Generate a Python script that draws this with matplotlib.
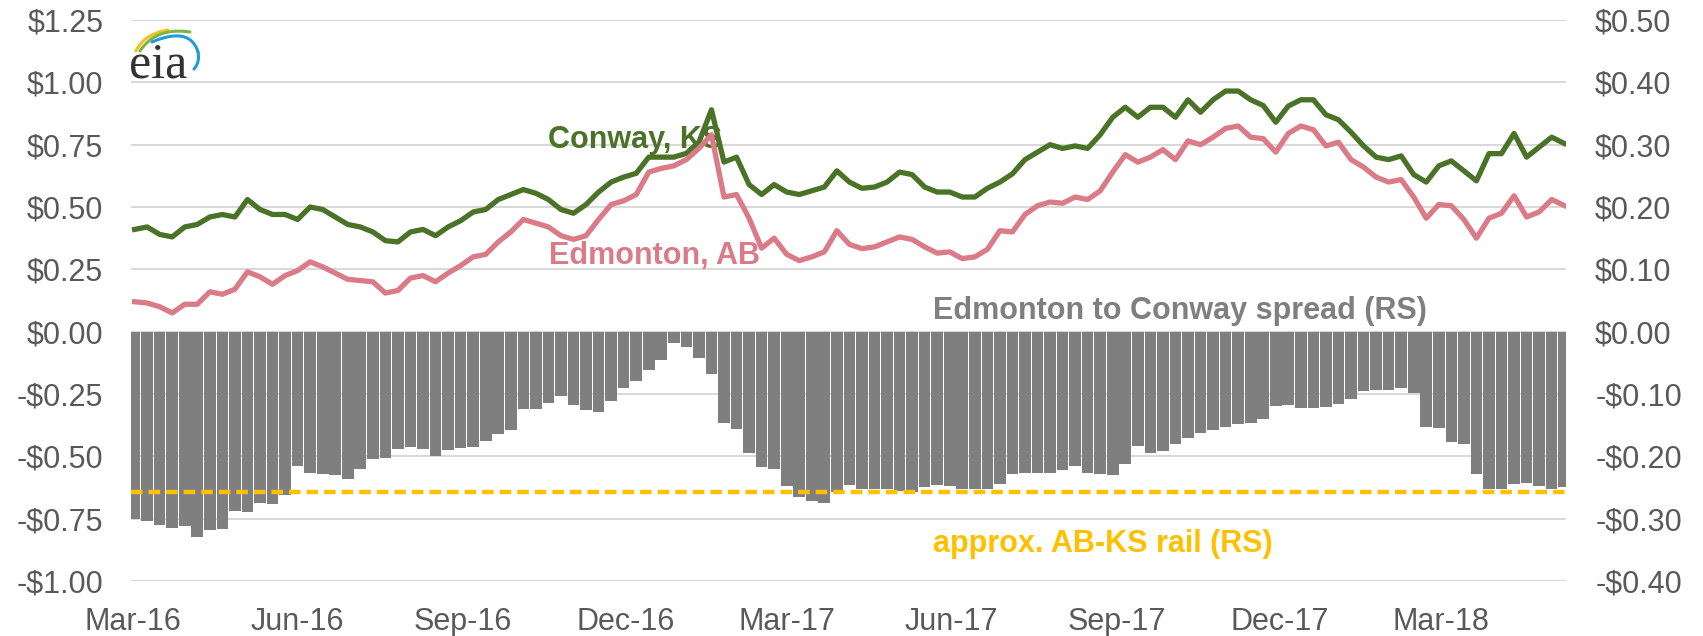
import numpy as np
import pandas as pd
import matplotlib
matplotlib.use("Agg")
import matplotlib.pyplot as plt
import matplotlib.dates as mdates
from matplotlib.ticker import FuncFormatter, MultipleLocator

# Weekly readings (one point per week, Wednesdays), Mar-2016 .. May-2018, $/gal
first_week = "2016-03-02"

conway = [
    0.41, 0.42, 0.39, 0.38, 0.42, 0.43, 0.46, 0.47, 0.46, 0.53,
    0.49, 0.47, 0.47, 0.45, 0.50, 0.49, 0.46, 0.43, 0.42, 0.40,
    0.365, 0.36, 0.40, 0.41, 0.385, 0.42, 0.445, 0.48, 0.49, 0.53,
    0.55, 0.57, 0.555, 0.53, 0.49, 0.475, 0.51, 0.56, 0.60, 0.62,
    0.635, 0.70, 0.70, 0.70, 0.715, 0.76, 0.89, 0.68, 0.70, 0.59,
    0.55, 0.59, 0.56, 0.55, 0.565, 0.58, 0.645, 0.60, 0.575, 0.58,
    0.60, 0.64, 0.63, 0.58, 0.56, 0.56, 0.54, 0.54, 0.575, 0.60,
    0.633, 0.69, 0.72, 0.75, 0.735, 0.745, 0.735, 0.79, 0.86, 0.90,
    0.86, 0.90, 0.90, 0.86, 0.93, 0.88, 0.93, 0.965, 0.965, 0.93,
    0.907, 0.84, 0.905, 0.93, 0.93, 0.87, 0.85, 0.80, 0.745, 0.70,
    0.69, 0.705, 0.63, 0.60, 0.665, 0.685, 0.645, 0.605, 0.714, 0.714,
    0.795, 0.70, 0.74, 0.78, 0.755,
]

edmonton = [
    0.12, 0.115, 0.10, 0.075, 0.11, 0.11, 0.16, 0.15, 0.17, 0.24,
    0.22, 0.19, 0.225, 0.245, 0.28, 0.26, 0.235, 0.21, 0.205, 0.20,
    0.155, 0.165, 0.215, 0.225, 0.20, 0.235, 0.265, 0.30, 0.31, 0.36,
    0.40, 0.45, 0.435, 0.42, 0.385, 0.37, 0.385, 0.45, 0.51, 0.525,
    0.55, 0.64, 0.655, 0.665, 0.69, 0.735, 0.79, 0.54, 0.55, 0.455,
    0.335, 0.375, 0.31, 0.285, 0.30, 0.32, 0.405, 0.35, 0.333, 0.34,
    0.36, 0.38, 0.37, 0.34, 0.315, 0.32, 0.293, 0.30, 0.33, 0.405,
    0.40, 0.47, 0.505, 0.52, 0.515, 0.54, 0.53, 0.565, 0.64, 0.71,
    0.68, 0.70, 0.73, 0.69, 0.765, 0.75, 0.78, 0.815, 0.825, 0.78,
    0.774, 0.72, 0.795, 0.825, 0.81, 0.745, 0.76, 0.69, 0.66, 0.62,
    0.60, 0.61, 0.54, 0.455, 0.51, 0.505, 0.45, 0.375, 0.455, 0.475,
    0.545, 0.46, 0.48, 0.53, 0.506,
]

# Edmonton minus Conway, right scale
spread = [
    -0.30, -0.304, -0.31, -0.315, -0.312, -0.33, -0.318, -0.316, -0.288, -0.29,
    -0.275, -0.276, -0.262, -0.215, -0.227, -0.228, -0.23, -0.236, -0.22, -0.205,
    -0.203, -0.188, -0.185, -0.188, -0.20, -0.19, -0.186, -0.185, -0.175, -0.164,
    -0.158, -0.124, -0.124, -0.114, -0.103, -0.117, -0.125, -0.129, -0.111, -0.09,
    -0.079, -0.061, -0.045, -0.018, -0.025, -0.042, -0.068, -0.146, -0.156, -0.195,
    -0.217, -0.22, -0.248, -0.265, -0.272, -0.275, -0.257, -0.246, -0.253, -0.253,
    -0.253, -0.256, -0.258, -0.25, -0.246, -0.248, -0.253, -0.253, -0.253, -0.245,
    -0.229, -0.226, -0.226, -0.226, -0.222, -0.215, -0.227, -0.229, -0.23, -0.212,
    -0.183, -0.195, -0.191, -0.18, -0.171, -0.163, -0.158, -0.153, -0.148, -0.146,
    -0.14, -0.12, -0.117, -0.122, -0.122, -0.121, -0.116, -0.108, -0.095, -0.094,
    -0.093, -0.09, -0.098, -0.153, -0.154, -0.177, -0.181, -0.229, -0.253, -0.253,
    -0.245, -0.243, -0.248, -0.253, -0.25,
]

rail_cost = -0.257  # approx. AB-KS rail, right scale

GREEN = "#4A7328"
PINK = "#DA7B87"
GRAY = "#7F7F7F"
GOLD = "#FFC000"
TICK = "#595959"

plt.rcParams["font.family"] = ["Liberation Sans", "DejaVu Sans"]

dates = pd.date_range(first_week, periods=len(conway), freq="7D")
x = mdates.date2num(dates)


def dollars(v, pos=None):
    v = round(v, 2)
    if abs(v) < 1e-9:
        return "$0.00"
    return ("-" if v < 0 else "") + f"${abs(v):.2f}"


fig = plt.figure(figsize=(17.03, 6.36), dpi=100)
pos = [131 / 1703, 1 - 581 / 636, 1435 / 1703, 561 / 636]

# gridlines sit under the bars, so they live on a background axes
bg = fig.add_axes(pos, zorder=-10)
bg.set_ylim(-1.0, 1.25)
bg.set_xlim(0, 1)
for g in np.arange(-1.0, 1.26, 0.25):
    bg.axhline(g, color="#D9D9D9", linewidth=1.5)
bg.axis("off")

ax = fig.add_axes(pos)
ax2 = ax.twinx()

# left scale: prices
ax.set_ylim(-1.0, 1.25)
ax.yaxis.set_major_locator(MultipleLocator(0.25))
ax.yaxis.set_major_formatter(FuncFormatter(dollars))

# right scale: spread
ax2.set_ylim(-0.4, 0.5)
ax2.yaxis.set_major_locator(MultipleLocator(0.1))
ax2.yaxis.set_major_formatter(FuncFormatter(dollars))

ax2.bar(x, spread, width=6.5, color=GRAY, linewidth=0, zorder=2)
ax2.axhline(rail_cost, color=GOLD, linewidth=3.2, dashes=(2.6, 1.35), zorder=3)

ax.set_zorder(ax2.get_zorder() + 1)
ax.patch.set_visible(False)
ax2.patch.set_visible(False)
ax.plot(x, conway, color=GREEN, linewidth=3.8, solid_joinstyle="round", zorder=4)
ax.plot(x, edmonton, color=PINK, linewidth=3.8, solid_joinstyle="round", zorder=4)

ax.set_xlim(mdates.date2num(pd.Timestamp("2016-02-29")), mdates.date2num(pd.Timestamp("2018-05-10")))
ax.xaxis.set_major_locator(mdates.MonthLocator(bymonth=[3, 6, 9, 12]))
ax.xaxis.set_major_formatter(mdates.DateFormatter("%b-%y"))

for a in (ax, ax2):
    for s in a.spines.values():
        s.set_visible(False)
ax.tick_params(axis="y", length=0, labelsize=22, labelcolor=TICK, pad=20)
ax.tick_params(axis="x", length=0, labelsize=22, labelcolor=TICK, pad=19)
ax2.tick_params(axis="y", length=0, labelsize=22, labelcolor=TICK, pad=21)

# in-chart labels
ax.text(0.2906, 0.77, "Conway, KS", transform=ax.get_yaxis_transform(), color=GREEN,
        fontsize=22, fontweight="bold", va="center", ha="left")
ax.text(0.2913, 0.305, "Edmonton, AB", transform=ax.get_yaxis_transform(), color=PINK,
        fontsize=22, fontweight="bold", va="center", ha="left")
ax2.text(0.5589, 0.033, "Edmonton to Conway spread (RS)", transform=ax2.get_yaxis_transform(),
         color=GRAY, fontsize=22, fontweight="bold", va="center", ha="left")
ax2.text(0.5589, -0.341, "approx. AB-KS rail (RS)", transform=ax2.get_yaxis_transform(),
         color=GOLD, fontsize=22, fontweight="bold", va="center", ha="left")

# eia logo
logo = fig.add_axes([128 / 1703, 1 - 82 / 636, 75 / 1703, 57 / 636])
logo.set_xlim(0, 75)
logo.set_ylim(0, 57)
logo.axis("off")


def bez(p0, p1, p2, n=40):
    t = np.linspace(0, 1, n)[:, None]
    p = (1 - t) ** 2 * np.array(p0) + 2 * (1 - t) * t * np.array(p1) + t ** 2 * np.array(p2)
    return p[:, 0], p[:, 1]


logo.plot(*bez((8, 31), (16, 48), (40, 52)), color="#F2C41B", linewidth=2.2, solid_capstyle="round")
logo.plot(*bez((12, 31), (28, 55), (62, 50)), color="#7DB648", linewidth=2.2, solid_capstyle="round")
logo.plot(*bez((24, 40), (62, 56), (70, 30)), color="#1F9BD7", linewidth=2.2, solid_capstyle="round")
logo.plot(*bez((70, 30), (72, 20), (66, 13)), color="#1F9BD7", linewidth=2.2, solid_capstyle="round")
logo.text(1, 4, "eia", fontsize=36, family=["Liberation Serif", "DejaVu Serif"], color="#333333",
          va="baseline", ha="left")

fig.savefig("out.png", dpi=100)
